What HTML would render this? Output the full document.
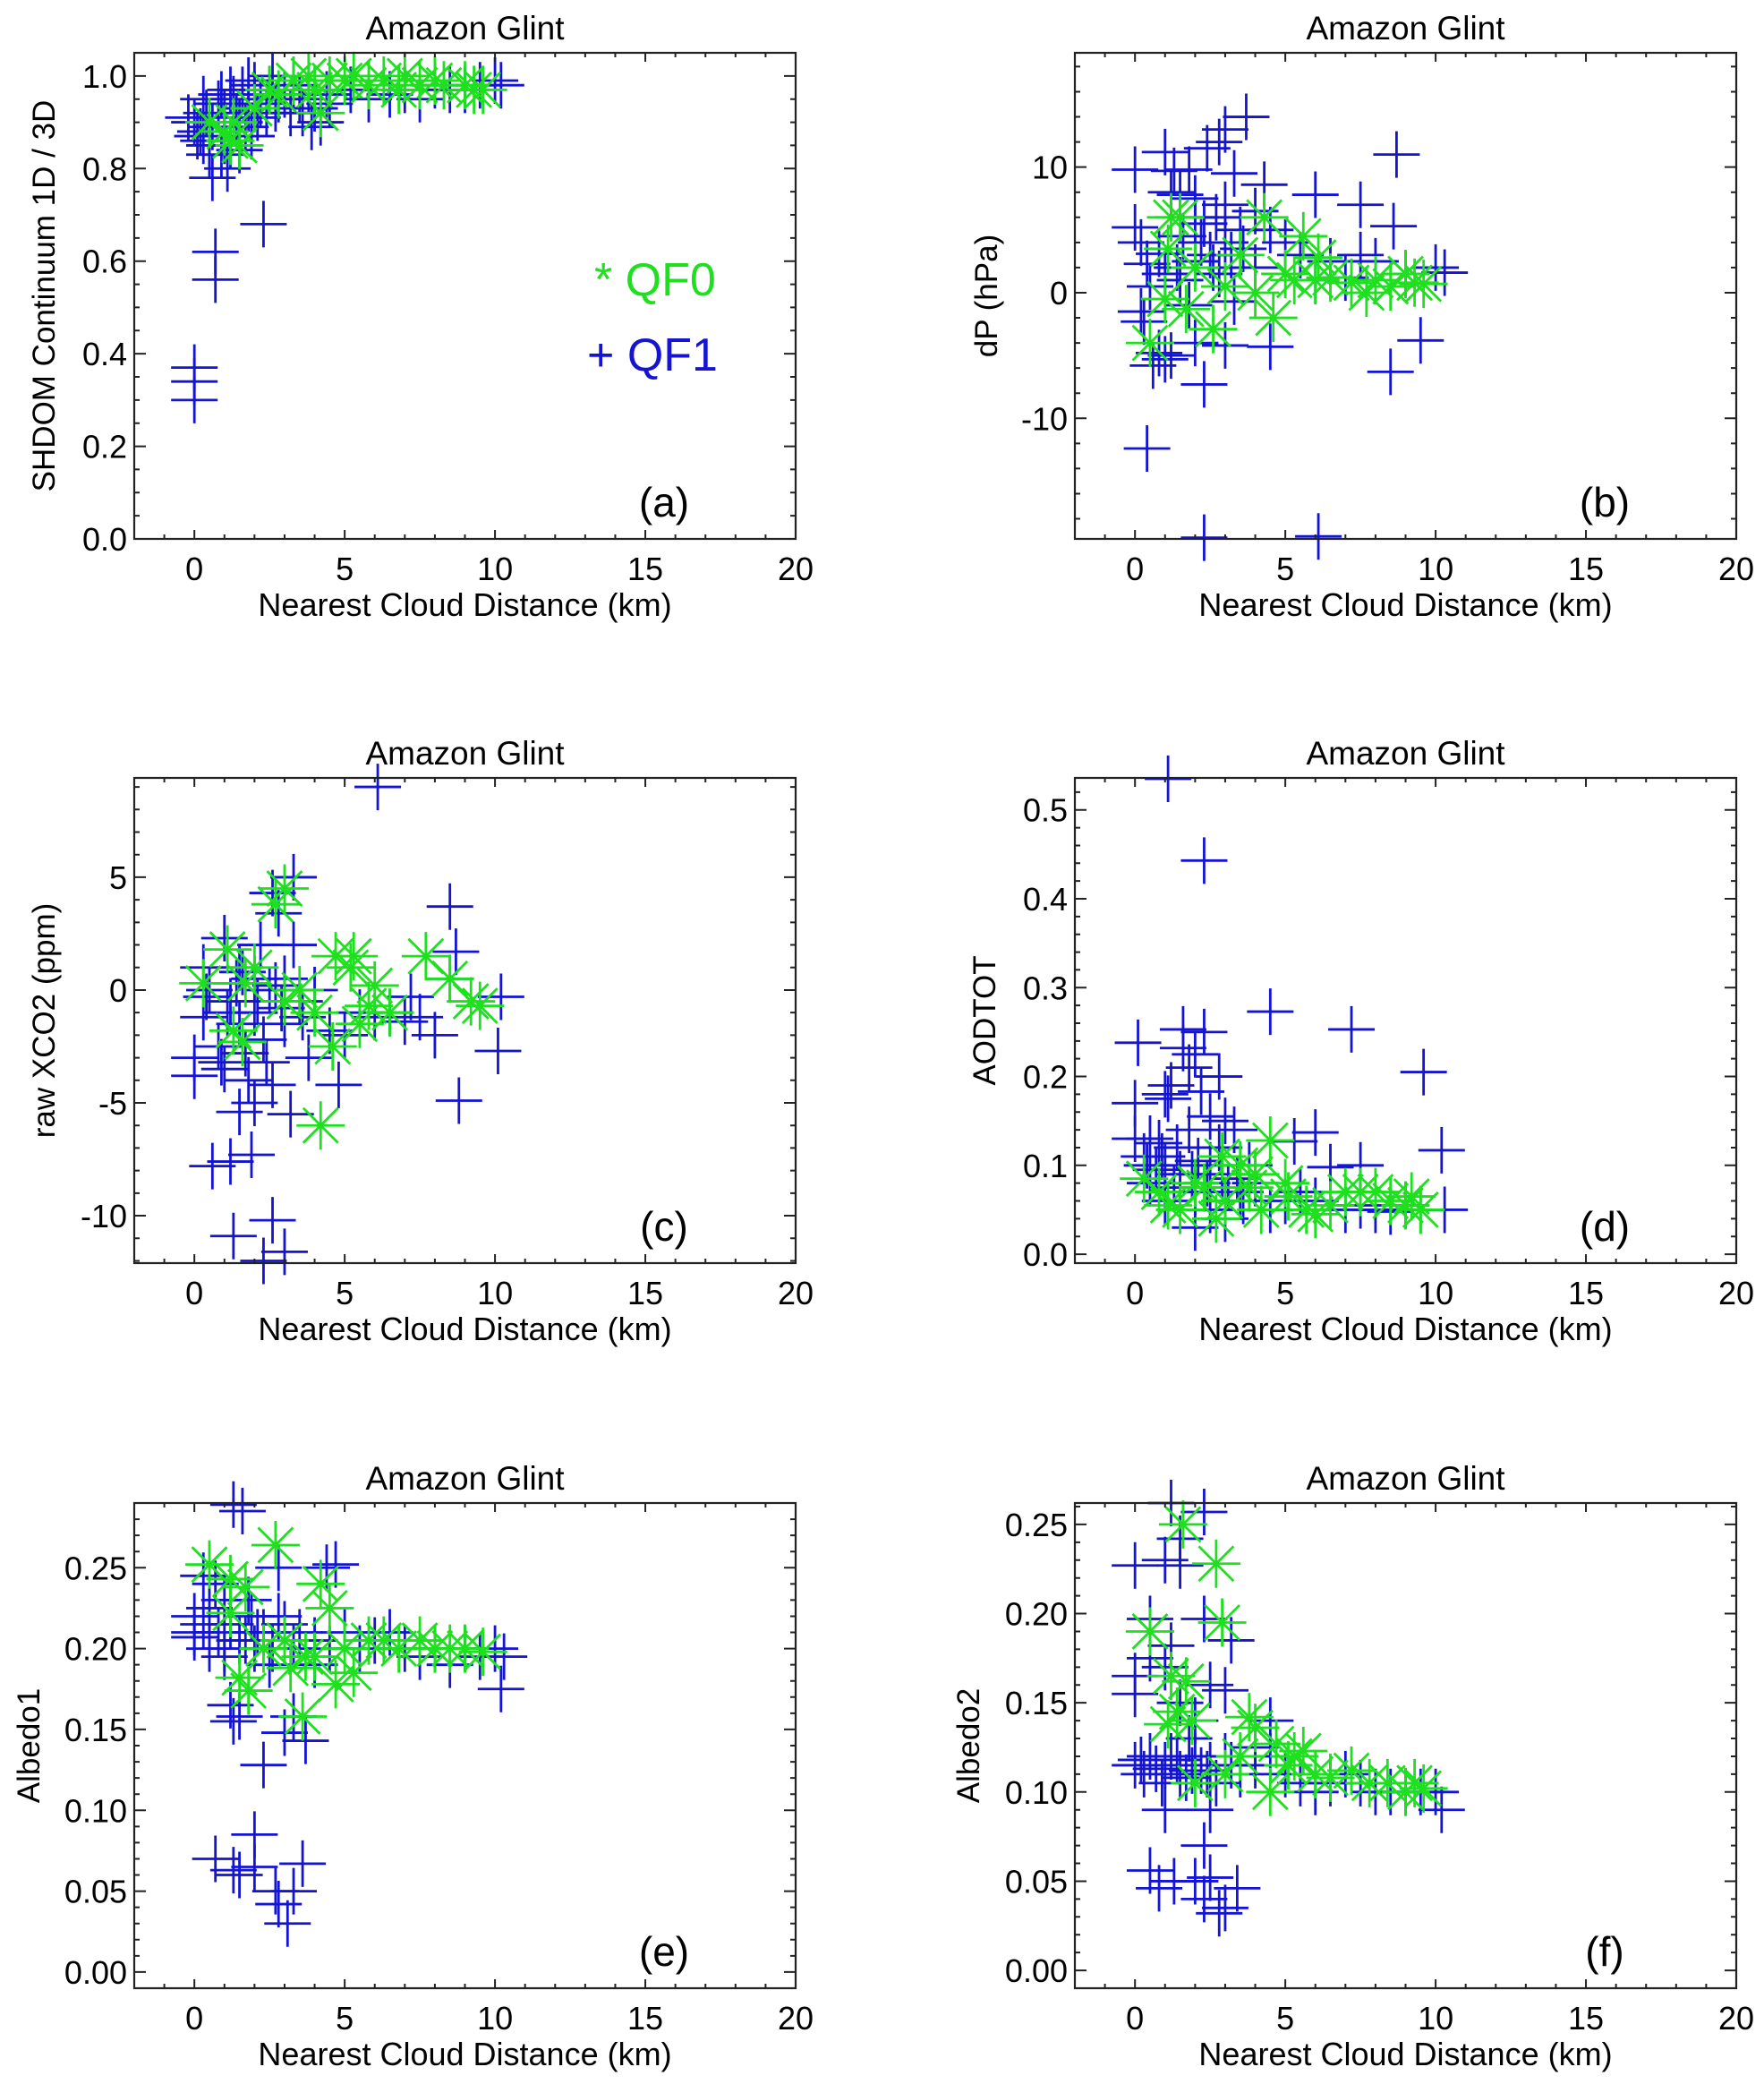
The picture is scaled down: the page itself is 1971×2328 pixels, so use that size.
<!DOCTYPE html>
<html><head><meta charset="utf-8">
<style>
html,body{margin:0;padding:0;background:#fff;}
svg{display:block;font-family:"Liberation Sans",sans-serif;}
</style></head>
<body>
<svg id="fig" width="1971" height="2328" viewBox="0 0 1971 2328" xmlns="http://www.w3.org/2000/svg"></svg>
<script>
// ---- data (x = nearest cloud distance km) ----
const aBlueX=[0,0.2,0.3,0.5,0.6,0.4,0.8,1,1,1.2,1.3,1.5,1.6,1.8,2,2.2,2.5,2.8,3,3.2,3.5,3.8,4,4.2,4.5,1.5,0.9,1.1,2.4,3.3,5.2,5.8,6.5,7,7.5,8,8.5,9,9.5,10,10.2,0.7,0.7,2.3,0,0,0,1.8,2.6,0.3,-0.2,0.1,0.6,1.4,1.7,2.1,2.7,3.6,0.9,1.2,2.0,1.0,3.9,4.4,0.5,1.9];
const aBlueY=[0.90,0.88,0.86,0.83,0.78,0.92,0.94,0.92,0.88,0.85,0.95,0.90,0.97,0.93,0.96,0.94,0.97,0.95,0.96,0.92,0.95,0.97,0.93,0.90,0.94,0.84,0.83,0.80,0.92,0.98,0.97,0.95,0.96,0.97,0.95,0.98,0.97,0.97,0.98,0.99,0.98,0.62,0.56,0.68,0.37,0.34,0.30,0.99,1.0,0.95,0.91,0.87,0.89,0.91,0.89,0.91,0.93,0.92,0.96,0.97,0.98,0.86,0.89,0.96,0.85,0.87];
const aGreenX=[0.5,1,1.2,1.5,1.3,2,2.8,3.3,4.2,4,4.5,5,5.3,5.8,6.3,7,7.5,8,8.3,9,9.3,9.6,2.5,3.8,6.8];
const aGreenY=[0.90,0.88,0.86,0.85,0.90,0.93,0.96,0.99,0.92,0.97,0.99,0.99,1.0,0.98,0.99,1.0,0.98,0.99,0.98,0.98,0.97,0.97,0.97,1.0,0.97];

const bBlueX=[0,1,1.3,2.4,3.0,3.7,2.8,8.7,6,7.5,8.6,9.5,8.5,2.3,0.4,2.3,6.1,0,0.2,0.4,0.8,0.5,0.2,0.3,0.8,1,0.6,1.2,2,3,4.5,3.3,1.5,2,2.5,3,3.5,2,3,1.5,4,4.5,5,5.5,6.5,7.5,8,9,10,10.3,6,7,4,2.3,1.2,3.3,1.8,4.3,2.8,1.8,1.6,2.2,2.7,3.2,1.4,2.6,3.6,1.0,2.0];
const bBlueY=[9.8,11.2,9.7,11.5,13,14,12,11,7.8,7,5.3,-3.8,-6.3,-7.3,-12.4,-19.5,-19.4,5.2,4,2.3,3.1,0.5,-1.5,-2.3,-4.8,-5.3,-5.8,-5.0,-4,-4.2,-4.3,-0.7,1.0,2.5,3,4,5,7.5,7,7.8,6.5,5,4,3,2.5,3,2.5,1.5,2,1.6,1,1.2,2,5.5,8,9.5,9.8,8.6,1.5,-1,4.5,4,6,3,2,2,3.5,1.5,6];
const bGreenX=[1.2,1.5,1.1,0.5,1,1.7,2.6,4.6,4.3,3.5,5.3,5.6,6.1,7.7,8.5,9.3,9.6,3,4,6,5,2,9,8,6.5,7.2];
const bGreenY=[6,6,3.5,-4,-0.5,-1.3,-2.9,-2,6,3,1,4.5,2.8,0,0.5,0.8,0.7,0.5,0,1,1.5,2,1.5,1,1.2,0.8];

const cBlueX=[6.1,3.3,2.6,8.5,8.7,8.5,10.2,10.1,8.8,4.8,0,0,0.3,0.5,0.3,1.0,1.5,2.2,2.8,3.3,0.6,1.2,1.9,1.3,2.6,3.0,2.3,1.5,2,2.6,3.2,1.8,2.4,1,0.8,1.5,2,3,3.5,4,3,2.5,2,1.2,5,6,6.5,7.2,7.5,8,7,4.5,5.5,1.6,3.8,1.1,2.1,2.9,0.4,1.4,2.3,3.6,0.9,1.7,2.7];
const cBlueY=[9,5,4.3,3.7,1.7,0.5,-0.3,-2.7,-4.9,-4.2,-3.8,-3,-1.2,0,1,2.3,1,2,3.4,2,-7.8,-7.6,-7.3,-10.9,-10.2,-11.6,-12,-5.4,-5,-4.2,-5.5,-4,-3.2,-3.5,-2.5,-1.5,-1,-1.5,-0.5,0,0.5,0,0.5,-0.5,-2,-1.2,-1,-0.3,-1.2,-2,-1.4,-1.8,-1,0.8,-3,-1,-0.5,-0.8,-0.3,0.3,-2.2,-1.2,-3.2,-2.8,0.2];
const cGreenX=[3,2.7,1.1,1.7,0.3,1.3,1.6,4.2,4.6,4.7,5.3,5.2,6,5.5,7.7,8.5,9.5,9.2,6.5,3.5,4,3,2,5.8];
const cGreenY=[4.5,3.8,1.8,0.3,0.3,-1.8,-2.3,-6,-2.5,1.5,1.5,1,0.2,-1.5,1.5,0.5,-0.7,-0.5,-1,0,-1,-0.5,1,-0.7];

const dBlueX=[1.1,2.3,4.5,7.2,9.6,10.2,0.1,1.6,2.3,1.6,2,2.8,1.8,1.2,1,2.2,0,1.1,0,0.5,0.8,0.3,1,1.5,2.5,3,3.3,2.8,6,5.3,7.5,6.5,0.5,1,2,2.5,3,3.5,4,4.5,5,5.5,6,7,7.5,8,8.5,9,9.5,10.3,2,3,2.5,1.8,3.8,0.4,0.9,1.4,1.9,2.4,2.9,3.4,0.7,1.3,2.1,3.1,3.6];
const dBlueY=[0.535,0.443,0.273,0.253,0.205,0.117,0.238,0.253,0.25,0.232,0.225,0.2,0.21,0.19,0.18,0.183,0.17,0.175,0.13,0.13,0.125,0.11,0.1,0.09,0.155,0.15,0.14,0.12,0.137,0.127,0.1,0.098,0.08,0.06,0.07,0.05,0.06,0.07,0.08,0.05,0.06,0.07,0.06,0.05,0.055,0.05,0.048,0.055,0.05,0.05,0.03,0.04,0.1,0.14,0.1,0.1,0.11,0.12,0.09,0.08,0.09,0.085,0.095,0.075,0.105,0.075,0.06];
const dGreenX=[1.1,0.8,0.3,2.7,4.5,4.2,2.9,5.1,5.7,6,7,7.5,8.5,9,9.5,9.2,3.5,4,2,1.5,3,5,6.5,8,2.3,3.8];
const dGreenY=[0.055,0.07,0.085,0.04,0.128,0.05,0.11,0.065,0.05,0.045,0.07,0.07,0.06,0.055,0.05,0.065,0.1,0.09,0.08,0.05,0.06,0.08,0.055,0.07,0.075,0.075];

const eBlueX=[1.3,1.6,2.8,4.7,4.4,0.3,0.7,1,0,0,0,0.5,0.3,1,1.5,2,2.3,2.8,3,3.5,4,4.5,5,5.5,6,6.5,7,7.5,8,8.5,9,9.5,10,10.2,10.3,1.2,1.3,1.5,3.3,3.7,3.0,2.3,0.7,1.3,2,2.0,2.7,3.3,3.6,2.8,3.1,1.5,1.9,2.5,4,0.8,1.2,1.7,2.1,2.6,3.3,0.5,1.0,1.8];
const eBlueY=[0.289,0.285,0.25,0.252,0.25,0.245,0.24,0.23,0.22,0.21,0.207,0.2,0.215,0.2,0.205,0.2,0.21,0.22,0.215,0.21,0.205,0.2,0.21,0.2,0.205,0.21,0.2,0.195,0.2,0.19,0.2,0.195,0.2,0.175,0.195,0.165,0.155,0.158,0.158,0.143,0.148,0.128,0.07,0.063,0.085,0.065,0.05,0.05,0.067,0.042,0.03,0.06,0.22,0.19,0.19,0.21,0.215,0.205,0.21,0.2,0.2,0.225,0.195,0.23];
const eGreenX=[0.5,2.7,1.2,1.7,1.2,4.2,4.5,1.5,1.8,3.2,3.7,3.6,4.7,5.3,5.8,6.8,7.5,8.5,9,9.6,2.3,4,3,5,6.3,8];
const eGreenY=[0.252,0.264,0.243,0.238,0.222,0.24,0.225,0.182,0.174,0.188,0.195,0.158,0.178,0.185,0.205,0.2,0.205,0.2,0.2,0.198,0.2,0.195,0.205,0.2,0.205,0.2];

const fBlueX=[1.2,2.3,1.5,1.0,0,1.5,0.5,2.3,3.2,1.2,0.5,1,0,0,2.5,3,1.5,2,4.5,0,0.5,0.3,1,1.5,2,2.5,3,3.5,4,4.5,5,5.5,6,6.5,7,7.5,8,8.5,9,9.5,10,10.2,1,2.5,2.3,0.5,1.3,0.8,2,2.5,2.3,3,3.4,2.8,4,1.8,0.2,0.7,1.2,1.7,2.2,2.7,3.2,0.9,1.4,1.9,2.4];
const fBlueY=[0.262,0.257,0.242,0.23,0.227,0.227,0.197,0.197,0.185,0.182,0.175,0.17,0.165,0.155,0.16,0.157,0.15,0.14,0.14,0.115,0.12,0.11,0.115,0.11,0.12,0.115,0.12,0.11,0.115,0.12,0.11,0.105,0.1,0.105,0.11,0.105,0.1,0.1,0.1,0.1,0.1,0.09,0.09,0.09,0.07,0.056,0.05,0.046,0.05,0.052,0.04,0.035,0.046,0.032,0.125,0.13,0.118,0.113,0.12,0.108,0.112,0.105,0.115,0.105,0.118,0.112,0.11];
const fGreenX=[0.5,1.6,2.7,2.9,1.2,1.7,1.4,1.9,1.1,4,3.8,4.7,5.3,5.6,5.1,7.2,8.4,9.3,9.6,3,2,6,7.8,3.5,4.5,6.5,9];
const fGreenY=[0.19,0.25,0.228,0.195,0.165,0.162,0.145,0.14,0.138,0.136,0.142,0.127,0.12,0.123,0.115,0.112,0.105,0.105,0.102,0.11,0.105,0.11,0.105,0.12,0.1,0.108,0.1];

const xTickLabels=["0","5","10","15","20"];
const aYTicks=["0.0","0.2","0.4","0.6","0.8","1.0"];
const bYTicks=["-10","0","10"];
const cYTicks=["-10","-5","0","5"];
const dYTicks=["0.0","0.1","0.2","0.3","0.4","0.5"];
const eYTicks=["0.00","0.05","0.10","0.15","0.20","0.25"];
const fYTicks=["0.00","0.05","0.10","0.15","0.20","0.25"];

const NS="http://www.w3.org/2000/svg";
const svg=document.getElementById('fig');
const BLUE="#1414d2", GREEN="#1ee01e";
function mk(tag,attrs,parent){const e=document.createElementNS(NS,tag);for(const k in attrs)e.setAttribute(k,attrs[k]);(parent||svg).appendChild(e);return e;}

const panels=[
 {id:'a',L:150,R:889,T:59,B:602,ymin:0,ymax:1.05,major:0.2,minor:0.05,ticks:aYTicks,ylab:"SHDOM Continuum 1D / 3D",ylx:49,bx:aBlueX,by:aBlueY,gx:aGreenX,gy:aGreenY,legend:true},
 {id:'b',L:1201,R:1940,T:59,B:602,ymin:-19.6,ymax:19.1,major:10,minor:2,ticks:bYTicks,ylab:"dP (hPa)",ylx:1102,bx:bBlueX,by:bBlueY,gx:bGreenX,gy:bGreenY},
 {id:'c',L:150,R:889,T:869,B:1411,ymin:-12.1,ymax:9.4,major:5,minor:1,ticks:cYTicks,ylab:"raw XCO2 (ppm)",ylx:49,bx:cBlueX,by:cBlueY,gx:cGreenX,gy:cGreenY},
 {id:'d',L:1201,R:1940,T:869,B:1411,ymin:-0.01,ymax:0.536,major:0.1,minor:0.02,ticks:dYTicks,ylab:"AODTOT",ylx:1100,bx:dBlueX,by:dBlueY,gx:dGreenX,gy:dGreenY},
 {id:'e',L:150,R:889,T:1679,B:2221,ymin:-0.01,ymax:0.29,major:0.05,minor:0.01,ticks:eYTicks,ylab:"Albedo1",ylx:32,bx:eBlueX,by:eBlueY,gx:eGreenX,gy:eGreenY},
 {id:'f',L:1201,R:1940,T:1679,B:2221,ymin:-0.01,ymax:0.262,major:0.05,minor:0.01,ticks:fYTicks,ylab:"Albedo2",ylx:1082,bx:fBlueX,by:fBlueY,gx:fGreenX,gy:fGreenY}
];

panels.forEach(p=>{
  const g=mk('g',{});
  
  
  const xs=v=>p.L+(v+2)/22*(p.R-p.L);
  const ys=v=>p.B-(v-p.ymin)/(p.ymax-p.ymin)*(p.B-p.T);
  const t=mk('text',{x:(p.L+p.R)/2,y:p.T-15,'text-anchor':'middle','font-size':37},g);t.textContent="Amazon Glint";
  
  const mg=mk('g',{},g);
  
  p.bx.forEach((xv,i)=>{const x=xs(xv),y=ys(p.by[i]);
    const pth=mk('path',{d:`M${x-26},${y}H${x+26}M${x},${y-26}V${y+26}`,stroke:BLUE,'stroke-width':2.8,fill:'none'},mg);
    });
  const gg=mk('g',{},g);
  
  p.gx.forEach((xv,i)=>{const x=xs(xv),y=ys(p.gy[i]);const r=27,d=r*0.72;
    const pth=mk('path',{d:`M${x-r},${y}H${x+r}M${x},${y-r}V${y+r}M${x-d},${y-d}L${x+d},${y+d}M${x-d},${y+d}L${x+d},${y-d}`,stroke:GREEN,'stroke-width':2.8,fill:'none'},gg);
    });
  const fr=mk('rect',{x:p.L,y:p.T,width:p.R-p.L,height:p.B-p.T,fill:'none',stroke:'#222','stroke-width':2.2},g);
  
  let d='';
  for(let v=-2;v<=20;v++){const x=xs(v);const len=(v%5===0)?10:5;d+=`M${x},${p.B}v${-len}M${x},${p.T}v${len}`;}
  const eps=1e-9;
  const start=Math.ceil((p.ymin-eps)/p.minor)*p.minor;
  for(let v=start;v<=p.ymax+eps;v+=p.minor){const y=ys(v);const isMaj=Math.abs(v/p.major-Math.round(v/p.major))<1e-6;const len=isMaj?13:6;d+=`M${p.L},${y}h${len}M${p.R},${y}h${-len}`;}
  const tk=mk('path',{d:d,stroke:'#222','stroke-width':2,fill:'none'},g);
  
  xTickLabels.forEach(s=>{const tx=mk('text',{x:xs(+s),y:p.B+46,'text-anchor':'middle','font-size':36},g);tx.textContent=s;
    });
  p.ticks.forEach(s=>{const ty=mk('text',{x:p.L-8,y:ys(+s)+13,'text-anchor':'end','font-size':36},g);ty.textContent=s;
    });
  const xl=mk('text',{x:(p.L+p.R)/2,y:p.B+86,'text-anchor':'middle','font-size':36},g);xl.textContent="Nearest Cloud Distance (km)";
  
  const ym=(p.T+p.B)/2;
  const yl=mk('text',{x:p.ylx,y:ym,'text-anchor':'middle','font-size':35,transform:`rotate(-90 ${p.ylx} ${ym})`,dy:12},g);yl.textContent=p.ylab;
  
  const pl=mk('text',{x:p.L+592,y:p.B-25,'text-anchor':'middle','font-size':46},g);pl.textContent='('+p.id+')';
  
  if(p.legend){
    const l0=mk('text',{x:664,y:330,'font-size':52,fill:GREEN},g);l0.textContent="* QF0";
    
    const l1=mk('text',{x:656,y:414,'font-size':52,fill:BLUE},g);l1.textContent="+ QF1";
    
  }
});
</script>
</body></html>
